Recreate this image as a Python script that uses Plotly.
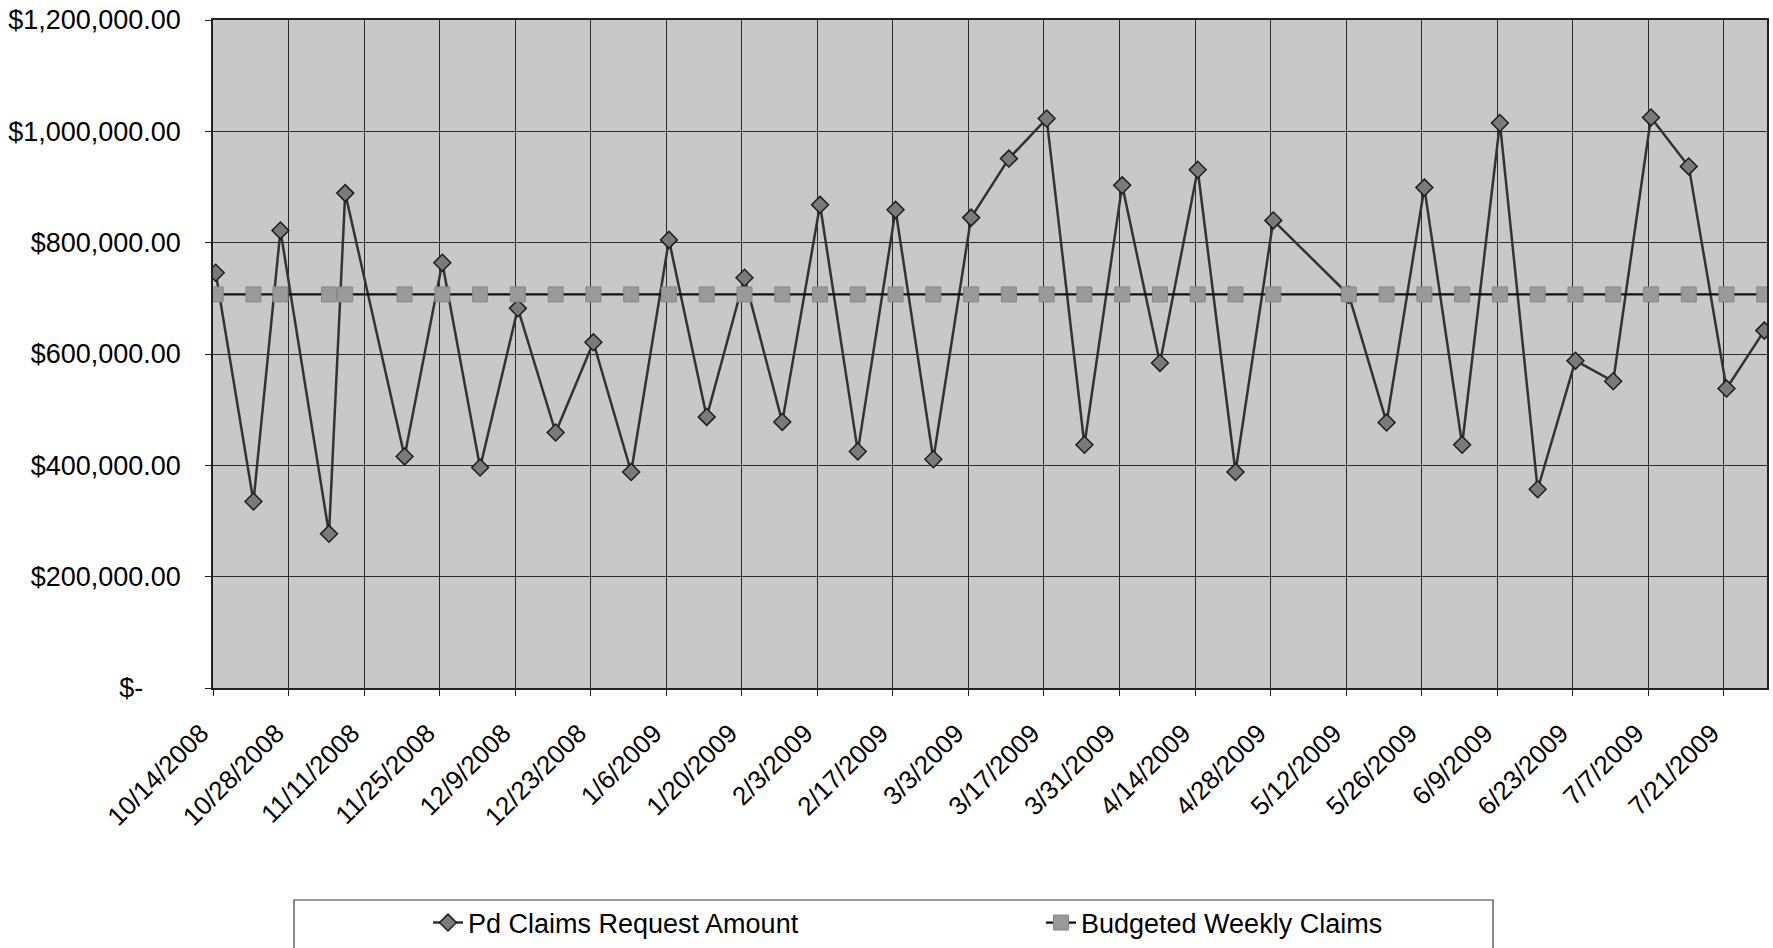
import pandas as pd
import plotly.graph_objects as go

# ---- data ----
claim_dates = [
    "2008-10-14", "2008-10-21", "2008-10-26", "2008-11-04", "2008-11-07",
    "2008-11-18", "2008-11-25", "2008-12-02", "2008-12-09", "2008-12-16",
    "2008-12-23", "2008-12-30", "2009-01-06", "2009-01-13", "2009-01-20",
    "2009-01-27", "2009-02-03", "2009-02-10", "2009-02-17", "2009-02-24",
    "2009-03-03", "2009-03-10", "2009-03-17", "2009-03-24", "2009-03-31",
    "2009-04-07", "2009-04-14", "2009-04-21", "2009-04-28", "2009-05-12",
    "2009-05-19", "2009-05-26", "2009-06-02", "2009-06-09", "2009-06-16",
    "2009-06-23", "2009-06-30", "2009-07-07", "2009-07-14", "2009-07-21",
    "2009-07-28",
]
pd_claims = [
    746000, 335000, 822000, 277000, 889000,
    416000, 764000, 396000, 682000, 459000,
    621000, 388000, 805000, 487000, 737000,
    478000, 868000, 425000, 859000, 411000,
    845000, 951000, 1023000, 437000, 903000,
    584000, 931000, 388000, 840000, 706000,
    477000, 899000, 437000, 1015000, 357000,
    588000, 551000, 1025000, 937000, 538000,
    642000,
]
budget_weekly = [707000] * len(claim_dates)

y_tick_vals = [0, 200000, 400000, 600000, 800000, 1000000, 1200000]
y_tick_text = ["$-" + "\u00a0" * 5, "$200,000.00", "$400,000.00", "$600,000.00",
               "$800,000.00", "$1,000,000.00", "$1,200,000.00"]

axis_start = "2008-10-14"
axis_end = "2009-07-29"

# ---- build ----
# Excel date axis: each date occupies a one-day slot, point drawn at slot centre
x = pd.to_datetime(claim_dates) + pd.Timedelta(hours=12)
x_ticks = pd.date_range(axis_start, "2009-07-21", freq="14D")
x_tick_text = [f"{d.month}/{d.day}/{d.year}" for d in x_ticks]

FONT = "Liberation Sans, Arial, sans-serif"

fig = go.Figure()
fig.add_trace(go.Scatter(
    x=x, y=pd_claims, mode="lines+markers", name="Pd Claims Request Amount",
    line=dict(color="#333333", width=2.5),
    marker=dict(symbol="diamond", size=13, color="#7a7a7a",
                line=dict(color="#1e1e1e", width=1.5)),
    legend="legend", showlegend=True,
))
fig.add_trace(go.Scatter(
    x=x, y=budget_weekly, mode="lines+markers", name="Budgeted Weekly Claims",
    line=dict(color="#111111", width=2.2),
    marker=dict(symbol="square", size=15, color="#9a9a9a",
                line=dict(color="#888888", width=1)),
    legend="legend2", showlegend=True,
))

W, H = 1773, 948
ML, MR, MT, MB = 213, 6, 20, 260
pw = W - ML - MR
ph = H - MT - MB

def px_x(px):
    return (px - ML) / pw

def px_y(py):
    return (H - MB - py) / ph

fig.update_layout(
    width=W, height=H,
    margin=dict(l=ML, r=MR, t=MT, b=MB, autoexpand=False),
    showlegend=True,
    paper_bgcolor="white",
    plot_bgcolor="#c8c8c8",
    font=dict(family=FONT, size=26, color="black"),
    xaxis=dict(
        type="date",
        range=[axis_start, axis_end],
        tickmode="array", tickvals=x_ticks, ticktext=x_tick_text,
        tickangle=-45,
        tickfont=dict(family=FONT, size=26, color="black"),
        ticklabelstandoff=12, ticklabelshift=-12,
        showgrid=True, gridcolor="#2a2a2a", gridwidth=1,
        showline=True, linecolor="#202020", linewidth=1.5, mirror=True,
        ticks="outside", ticklen=6, tickcolor="#202020",
        zeroline=False,
    ),
    yaxis=dict(
        range=[0, 1200000],
        tickmode="array", tickvals=y_tick_vals, ticktext=y_tick_text,
        tickfont=dict(family=FONT, size=27, color="black"),
        showgrid=True, gridcolor="#2a2a2a", gridwidth=1,
        showline=True, linecolor="#202020", linewidth=1.5, mirror=True,
        ticks="outside", ticklen=6, tickcolor="#202020",
        ticklabelstandoff=19,
        zeroline=False,
    ),
    legend=dict(
        x=px_x(428), y=px_y(923), xanchor="left", yanchor="middle",
        orientation="h", bgcolor="rgba(0,0,0,0)", borderwidth=0,
        font=dict(family=FONT, size=27, color="black"),
        visible=True,
    ),
    legend2=dict(
        x=px_x(1041), y=px_y(923), xanchor="left", yanchor="middle",
        orientation="h", bgcolor="rgba(0,0,0,0)", borderwidth=0,
        font=dict(family=FONT, size=27, color="black"),
        visible=True,
    ),
    shapes=[dict(
        type="rect", xref="paper", yref="paper",
        x0=px_x(294), x1=px_x(1493), y0=px_y(900), y1=px_y(960),
        line=dict(color="#3a3a3a", width=1.2), fillcolor="rgba(0,0,0,0)",
        layer="above",
    )],
)

fig.write_html("out.html", config={"displayModeBar": False},
               post_script="document.body.style.margin='0';")
